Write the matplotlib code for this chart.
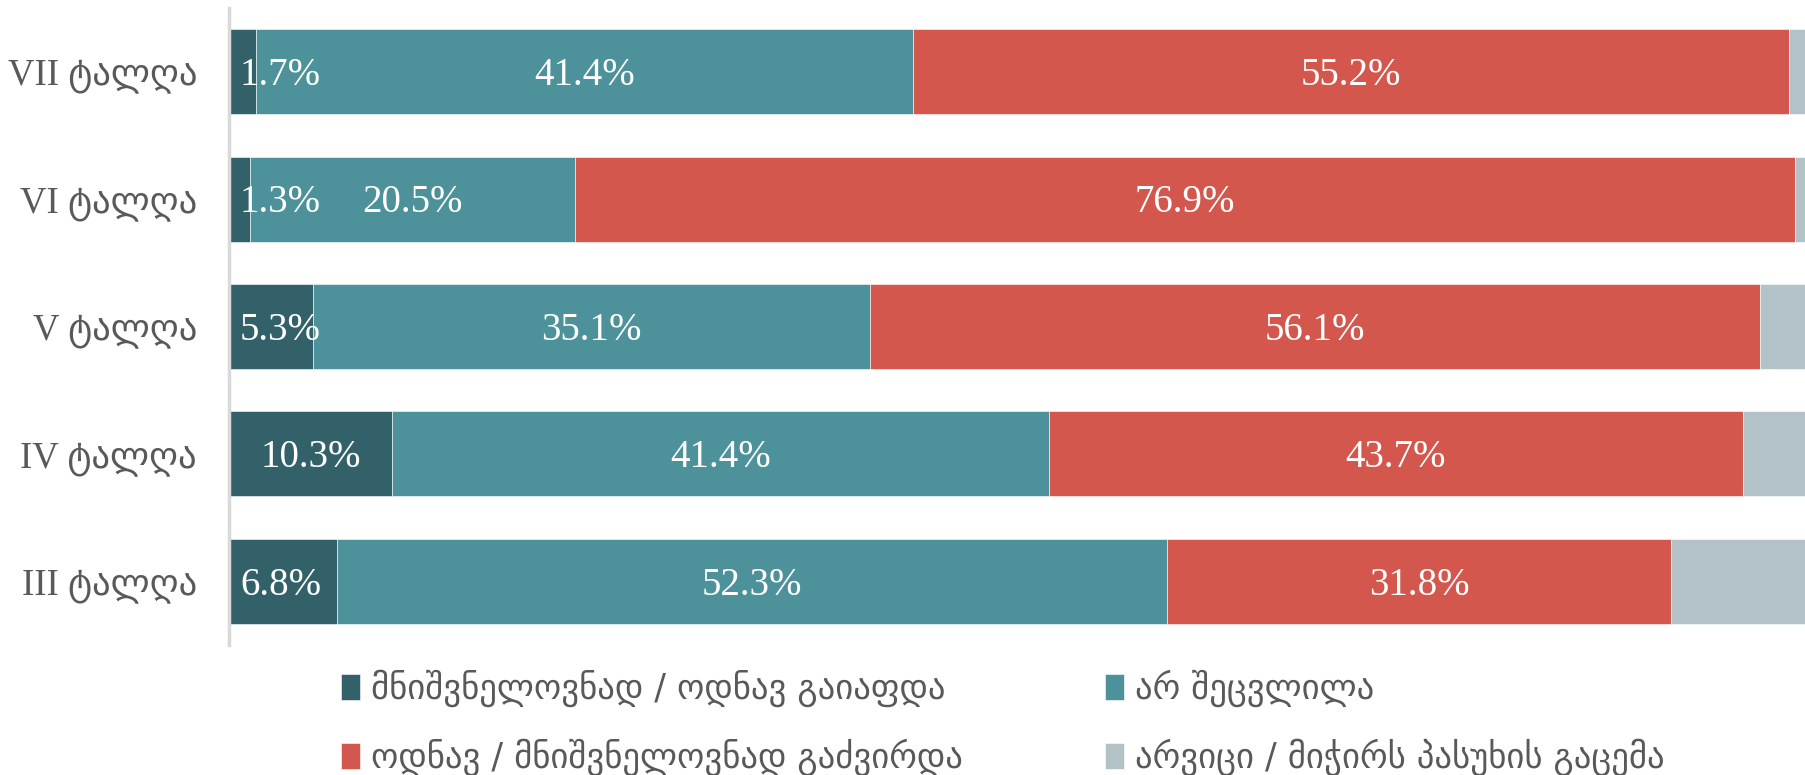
import matplotlib
matplotlib.use("Agg")
import matplotlib.pyplot as plt
import numpy as np

# data (bottom -> top as drawn)
waves = ["III ტალღა", "IV ტალღა", "V ტალღა", "VI ტალღა", "VII ტალღა"]
cheaper = [6.8, 10.3, 5.3, 1.3, 1.7]
unchanged = [52.3, 41.4, 35.1, 20.5, 41.4]
pricier = [31.8, 43.7, 56.1, 76.9, 55.2]
dont_know = [9.1, 4.6, 3.5, 1.3, 1.7]

series_names = [
    "მნიშვნელოვნად / ოდნავ გაიაფდა",
    "არ შეცვლილა",
    "ოდნავ / მნიშვნელოვნად გაძვირდა",
    "არვიცი / მიჭირს პასუხის გაცემა",
]
colors = ["#336169", "#4d929a", "#d4574e", "#b3c2c6"]

serif = ["Liberation Serif", "DejaVu Sans"]
grey_txt = "#595959"

fig = plt.figure(figsize=(18.06, 7.75), dpi=100)
ax = fig.add_axes([229 / 1806, 1 - 645 / 775, 1 - 229 / 1806, 637 / 775])

y = np.arange(len(waves))
all_series = [cheaper, unchanged, pricier, dont_know]
left = np.zeros(len(waves))
handles = []
for i, vals in enumerate(all_series):
    vals = np.array(vals)
    b = ax.barh(y, vals, left=left, height=0.667, color=colors[i],
                edgecolor="white", linewidth=0.4, label=series_names[i])
    handles.append(b)
    if i < 3:
        for j, v in enumerate(vals):
            cx = left[j] + v / 2
            if i == 0 and v < 8:
                ax.text(0.7, y[j] - 0.03, f"{v:.1f}%", ha="left", va="center",
                        color="white", fontsize=28, family=serif)
            else:
                ax.text(cx, y[j] - 0.03, f"{v:.1f}%", ha="center", va="center",
                        color="white", fontsize=28, family=serif)
    left += vals

ax.set_xlim(0, 99.4)
ax.set_ylim(-0.5, 4.5)
ax.set_yticks(y)
ax.set_yticklabels(waves, fontsize=26.5, color=grey_txt, family=serif)
ax.tick_params(axis="y", length=0, pad=23)
ax.set_xticks([])
for s in ["top", "right", "bottom"]:
    ax.spines[s].set_visible(False)
ax.spines["left"].set_color("#d9d9d9")
ax.spines["left"].set_linewidth(2.5)

order = [handles[0], handles[2], handles[1], handles[3]]
labels = [series_names[0], series_names[2], series_names[1], series_names[3]]
leg = fig.legend(order, labels, ncol=2, loc="lower left",
                 bbox_to_anchor=(310 / 1806, -0.042), frameon=False,
                 prop={"family": "DejaVu Sans", "size": 25},
                 handlelength=0.55, handleheight=0.75, handletextpad=0.3,
                 columnspacing=4.1, labelspacing=0.9, labelcolor=grey_txt)

fig.savefig("out.png", dpi=100)
